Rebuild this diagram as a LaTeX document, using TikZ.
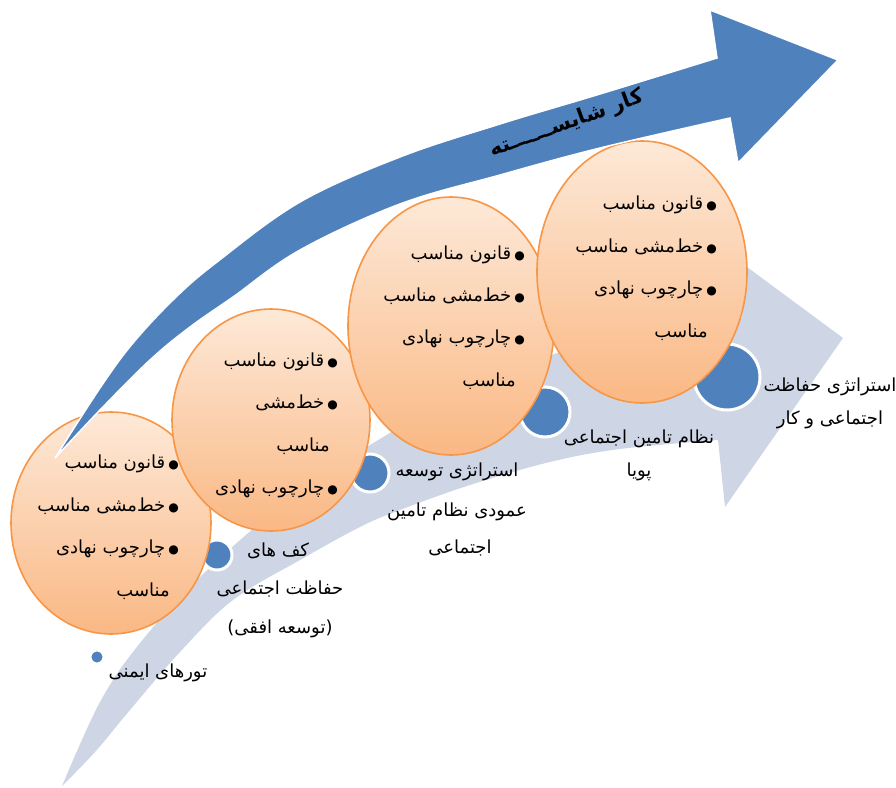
\documentclass[tikz,border=0pt]{standalone}
\usepackage{fontspec}
\usetikzlibrary{shapes.geometric}
\TeXXeTstate=1
\newfontfamily\arabicfont[Script=Arabic]{DejaVu Sans}
\newfontfamily\latinfont{DejaVu Sans}
\definecolor{bandblue}{RGB}{206,214,230}
\definecolor{mainblue}{RGB}{79,129,189}
\definecolor{peachtop}{RGB}{253,233,216}
\definecolor{peachbot}{RGB}{250,184,132}
\definecolor{orangeline}{RGB}{247,150,70}
\newcommand\rtl[1]{\beginR#1\endR}
\newcommand\bul{{\latinfont\fontsize{12}{14}\selectfont ●}}
\begin{document}
\begin{tikzpicture}[x=1pt,y=-1pt,
  bubble/.style={ellipse, inner sep=0pt, draw=orangeline, line width=1.6pt, top color=peachtop, bottom color=peachbot},
  dot/.style={circle, inner sep=0pt, fill=mainblue, draw=white, line width=3pt},
  itm/.style={font=\arabicfont\fontsize{18}{20}\selectfont, inner sep=0pt, anchor=base east},
  lbl/.style={font=\arabicfont\fontsize{18}{20}\selectfont, inner sep=0pt, anchor=base},
]
\useasboundingbox (0,0) rectangle (896,787);
% light band arrow
\fill[bandblue] plot[smooth, tension=0.6] coordinates {(62,786) (100,702) (140,643) (200,577) (280,507) (370,445) (470,390) (580,345) (680,322) (742,318)}
  -- (747,267) -- (843,338) -- (725,507) -- (718,440)
  -- plot[smooth, tension=0.6] coordinates {(718,440) (620,449) (550,462) (470,485) (400,510) (360,527) (300,560) (233,600) (180,652) (130,710) (95,752) (62,786)} -- cycle;
% dots
\node[dot, minimum size=14pt] (d1) at (97,657) {};
\node[dot, minimum size=30pt] (d2) at (217,555) {};
\node[dot, minimum size=38pt] (d3) at (370,473) {};
\node[dot, minimum size=50pt] (d4) at (545,412) {};
\node[dot, minimum size=66pt] (d5) at (727,377) {};
% circle 1
\node[bubble, minimum width=200pt, minimum height=222pt] (c1) at (111,523) {};
\node[itm] (c1a) at (179,468) {\rtl{\bul\,قانون مناسب}};
\node[itm] (c1b) at (179,511) {\rtl{\bul\,خط‌مشی مناسب}};
\node[itm] (c1c) at (179,553) {\rtl{\bul\,چارچوب نهادی}};
\node[itm] (c1d) at (170,596) {\rtl{مناسب}};
% circle 2
\node[bubble, minimum width=198pt, minimum height=222pt] (c2) at (271,420) {};
\node[itm] (c2a) at (338,366) {\rtl{\bul\,قانون مناسب}};
\node[itm] (c2b) at (338,408) {\rtl{\bul\,خط‌مشی}};
\node[itm] (c2c) at (330,451) {\rtl{مناسب}};
\node[itm] (c2d) at (338,493) {\rtl{\bul\,چارچوب نهادی}};
% circle 3
\node[bubble, minimum width=206pt, minimum height=258pt] (c3) at (451,326) {};
\node[itm] (c3a) at (525,259) {\rtl{\bul\,قانون مناسب}};
\node[itm] (c3b) at (525,301) {\rtl{\bul\,خط‌مشی مناسب}};
\node[itm] (c3c) at (525,343) {\rtl{\bul\,چارچوب نهادی}};
\node[itm] (c3d) at (516,386) {\rtl{مناسب}};
% circle 4
\node[bubble, minimum width=210pt, minimum height=262pt] (c4) at (642,272) {};
\node[itm] (c4a) at (717,209) {\rtl{\bul\,قانون مناسب}};
\node[itm] (c4b) at (717,252) {\rtl{\bul\,خط‌مشی مناسب}};
\node[itm] (c4c) at (717,294) {\rtl{\bul\,چارچوب نهادی}};
\node[itm] (c4d) at (708,337) {\rtl{مناسب}};
% labels
\node[lbl] (l1) at (158,677) {\rtl{تورهای ایمنی}};
\node[lbl] (l2a) at (278,556) {\rtl{کف های}};
\node[lbl] (l2b) at (280,594) {\rtl{حفاظت اجتماعی}};
\node[lbl] (l2c) at (280,633) {{\latinfont(}\rtl{توسعه افقی}{\latinfont)}};
\node[lbl] (l3a) at (457,476) {\rtl{استراتژی توسعه}};
\node[lbl] (l3b) at (457,516) {\rtl{عمودی نظام تامین}};
\node[lbl] (l3c) at (460,553) {\rtl{اجتماعی}};
\node[lbl] (l4a) at (639,443) {\rtl{نظام تامین اجتماعی}};
\node[lbl] (l4b) at (639,476) {\rtl{پویا}};
\node[lbl] (l5a) at (830,391) {\rtl{استراتژی حفاظت}};
\node[lbl] (l5b) at (830,424) {\rtl{اجتماعی و کار}};
% main blue arrow
\filldraw[fill=mainblue, draw=white, line width=1.5pt] plot[smooth, tension=0.6] coordinates {(55,458) (100,388) (133,343) (175,298) (217,262) (300,202) (400,157) (500,124) (600,94) (717,58)}
  -- (710,10) -- (838,60) -- (738,163) -- (730,118)
  -- plot[smooth, tension=0.6] coordinates {(730,118) (600,148) (500,175) (400,204) (300,250) (233,297) (190,327) (150,360) (100,410) (55,458)} -- cycle;
\node[font=\arabicfont\bfseries\fontsize{21}{24}\selectfont, rotate=20, inner sep=0pt] (title) at (567,124) {\rtl{کار شایســــــته}};
\end{tikzpicture}
\end{document}
